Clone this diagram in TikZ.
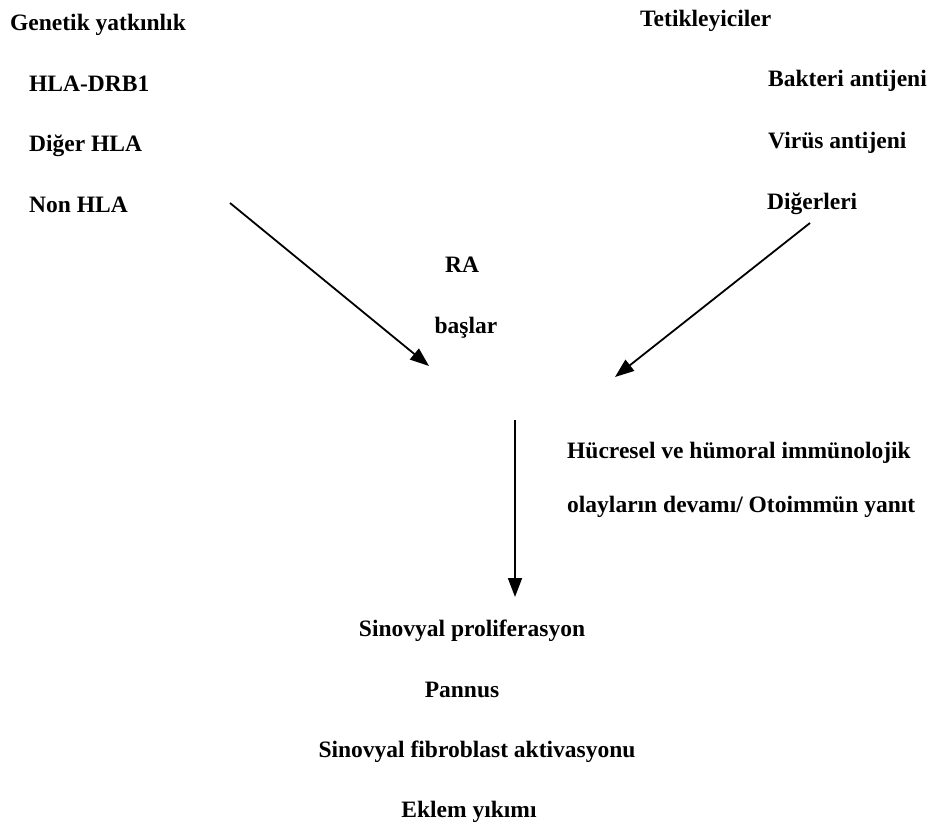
\documentclass[tikz,border=0pt]{standalone}
\usepackage{fontspec}
\setmainfont{Liberation Serif}
\usetikzlibrary{arrows.meta}
\begin{document}
\begin{tikzpicture}[x=1pt,y=-1pt,
  lbl/.style={inner sep=0pt,font=\fontsize{23.5}{28}\selectfont\bfseries},
  lw/.style={lbl,anchor=base west},
  lc/.style={lbl,anchor=base},
  arr/.style={line width=1.8pt,-{Triangle[length=19pt,width=14pt]}}]
\useasboundingbox[fill=white] (0,0) rectangle (933,826);
% left column
\node[lw] (gen) at (10,31) {Genetik yatkınlık};
\node[lw] (hla) at (29,92) {HLA-DRB1};
\node[lw] (dig) at (29,152) {Diğer HLA};
\node[lw] (non) at (29,212) {Non HLA};
% right column
\node[lw] (tet) at (640,27) {Tetikleyiciler};
\node[lw] (bak) at (768,87) {Bakteri antijeni};
\node[lw] (vir) at (768,149) {Virüs antijeni};
\node[lw] (digr) at (767,210) {Diğerleri};
% centre
\node[lc] (ra) at (462,272) {RA};
\node[lc] (bas) at (466,333) {başlar};
\node[lw] (huc) at (567,458) {Hücresel ve hümoral immünolojik};
\node[lw] (ola) at (567,512) {olayların devamı/ Otoimmün yanıt};
% bottom
\node[lc] (sin) at (472,636) {Sinovyal proliferasyon};
\node[lc] (pan) at (462,697) {Pannus};
\node[lc] (fib) at (477,757) {Sinovyal fibroblast aktivasyonu};
\node[lc] (ekl) at (469,817) {Eklem yıkımı};
% arrow end points
\coordinate (a1s) at (230,203);
\coordinate (a1e) at (429,366);
\coordinate (a2s) at (810,223);
\coordinate (a2e) at (615,377);
\coordinate (a3s) at (515,420);
\coordinate (a3e) at (515,597);
\draw[arr] (a1s) -- (a1e);
\draw[arr] (a2s) -- (a2e);
\draw[arr] (a3s) -- (a3e);
\end{tikzpicture}
\end{document}
